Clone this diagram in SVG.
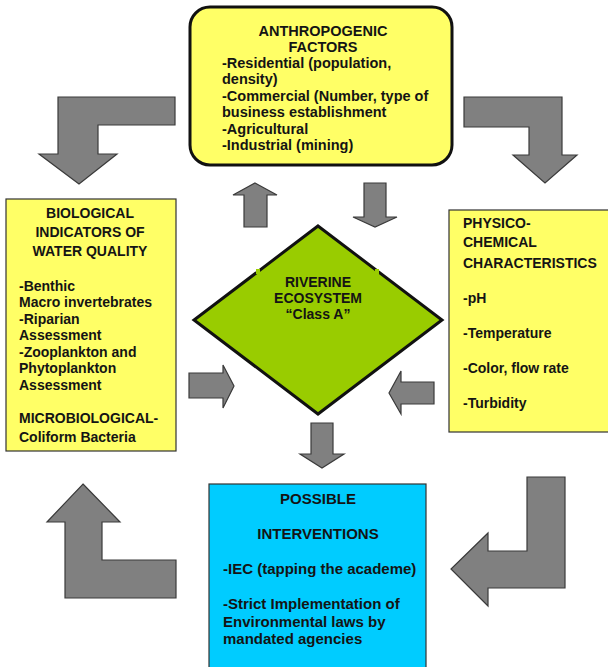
<svg xmlns="http://www.w3.org/2000/svg" width="608" height="667" viewBox="0 0 608 667">
<style>
.t{font-family:"Liberation Sans",Arial,sans-serif;font-weight:bold;fill:#141414}
.c{text-anchor:middle}
.box{stroke:#333;stroke-width:1.2}
.arr{fill:#808080;stroke:#3a3a3a;stroke-width:1.2;stroke-linejoin:miter}
</style>
<rect width="608" height="667" fill="#fff"/>
<g id="connectors">
<polygon class="arr" points="175,97 58,97 58,154 39,154 79,184 117,154 98,154 98,125 175,125"/>
<polygon class="arr" points="464,97 562,97 562,155 577,155 545,183 513,155 529,155 529,127 464,127"/>
<polygon class="arr" points="83,484 120,522 102,522 102,560 176,560 176,598 65,598 65,522 47,522"/>
<polygon class="arr" points="527,477 565,477 565,588 488,588 488,606 451,569 488,533 488,551 527,551"/>
<polygon class="arr" points="255,183 277,195 267,195 267,227 244,227 244,195 233,195"/>
<polygon class="arr" points="364,183 386,183 386,217 397,217 375,227 353,217 364,217"/>
<polygon class="arr" points="189,373 223,373 223,365 234,386 223,408 223,398 189,398"/>
<polygon class="arr" points="434,382 401,382 401,371 389,393 401,414 401,404 434,404"/>
<polygon class="arr" points="311,423 333,423 333,454 344,454 322,468 300,454 311,454"/>
</g>
<g id="anthropogenic">
<rect x="190" y="7" width="262" height="158" rx="20" ry="20" fill="#FFFF66" stroke="#111" stroke-width="3"/>
<text class="t c" x="323" y="36" font-size="14.5">ANTHROPOGENIC</text>
<text class="t c" x="323" y="52" font-size="14.5">FACTORS</text>
<text class="t" x="222" y="68" font-size="14.5">-Residential (population,</text>
<text class="t" x="222" y="84" font-size="14.5">density)</text>
<text class="t" x="222" y="101" font-size="14.5">-Commercial (Number, type of</text>
<text class="t" x="222" y="117" font-size="14.5">business establishment</text>
<text class="t" x="222" y="134" font-size="14.5">-Agricultural</text>
<text class="t" x="222" y="150" font-size="14.5">-Industrial (mining)</text>
</g>
<g id="biological">
<rect class="box" x="6" y="199" width="170" height="252" fill="#FFFF66"/>
<text class="t c" x="90" y="218" font-size="14">BIOLOGICAL</text>
<text class="t c" x="90" y="237" font-size="14">INDICATORS OF</text>
<text class="t c" x="90" y="256" font-size="14">WATER QUALITY</text>
<text class="t" x="19" y="291" font-size="14">-Benthic</text>
<text class="t" x="19" y="307" font-size="14">Macro invertebrates</text>
<text class="t" x="19" y="324" font-size="14">-Riparian</text>
<text class="t" x="19" y="340" font-size="14">Assessment</text>
<text class="t" x="19" y="357" font-size="14">-Zooplankton and</text>
<text class="t" x="19" y="373" font-size="14">Phytoplankton</text>
<text class="t" x="19" y="390" font-size="14">Assessment</text>
<text class="t" x="19" y="423" font-size="14">MICROBIOLOGICAL-</text>
<text class="t" x="19" y="442" font-size="14">Coliform Bacteria</text>
</g>
<g id="physico">
<rect class="box" x="449" y="210" width="162" height="222" fill="#FFFF66"/>
<text class="t" x="463" y="228" font-size="14">PHYSICO-</text>
<text class="t" x="463" y="247" font-size="14">CHEMICAL</text>
<text class="t" x="463" y="268" font-size="14">CHARACTERISTICS</text>
<text class="t" x="463" y="303" font-size="14">-pH</text>
<text class="t" x="463" y="338" font-size="14">-Temperature</text>
<text class="t" x="463" y="373" font-size="14">-Color, flow rate</text>
<text class="t" x="463" y="408" font-size="14">-Turbidity</text>
</g>
<g id="riverine">
<polygon points="318,226 442,320 318,414 194,320" fill="#99CC00" stroke="#111" stroke-width="3" stroke-linejoin="miter"/>
<rect x="256" y="269" width="4" height="5" fill="#99CC00"/>
<rect x="375" y="269" width="4" height="5" fill="#99CC00"/>
<text class="t c" x="318" y="287" font-size="14">RIVERINE</text>
<text class="t c" x="318" y="303" font-size="14">ECOSYSTEM</text>
<text class="t c" x="318" y="319" font-size="14">“Class A”</text>
</g>
<g id="interventions">
<rect class="box" x="209" y="484" width="217" height="190" fill="#00CCFF"/>
<text class="t c" x="318" y="504" font-size="15">POSSIBLE</text>
<text class="t c" x="318" y="539" font-size="15">INTERVENTIONS</text>
<text class="t" x="223" y="574" font-size="15">-IEC (tapping the academe)</text>
<text class="t" x="223" y="609" font-size="15">-Strict Implementation of</text>
<text class="t" x="223" y="627" font-size="15">Environmental laws by</text>
<text class="t" x="223" y="644" font-size="15">mandated agencies</text>
</g>
</svg>
